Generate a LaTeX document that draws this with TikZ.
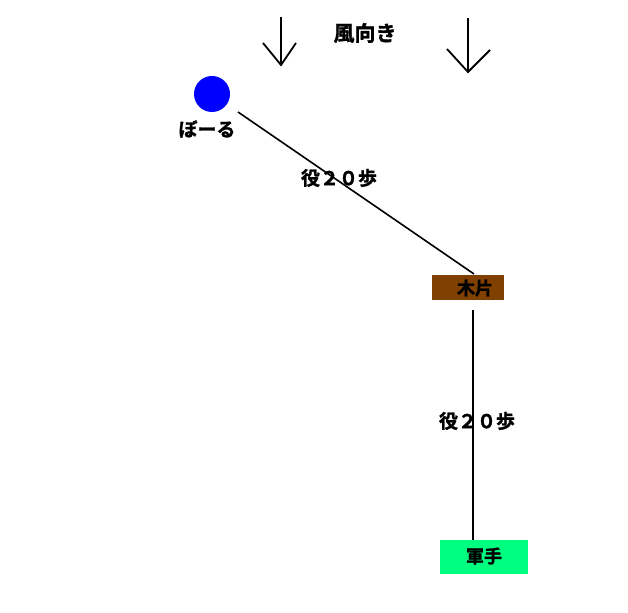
\documentclass[tikz,border=0pt]{standalone}
\usepackage{fontspec}
\newfontfamily\cjk{Noto Sans CJK JP}[BoldFont={Noto Sans CJK JP Bold},BoldFeatures={FakeBold=1.5}]
\begin{document}
\begin{tikzpicture}[x=1pt,y=-1pt,
  lbl/.style={font=\cjk\bfseries\fontsize{19}{21}\selectfont, inner sep=0pt},
  wind/.style={line width=1.8pt},
  conn/.style={line width=1.6pt}]
\definecolor{woodbrown}{RGB}{128,64,0}
\definecolor{glovegreen}{RGB}{0,255,128}
\useasboundingbox[fill=white] (0,0) rectangle (628,612);
% wind arrows
\coordinate (a1t) at (281,17);
\coordinate (a1h) at (281,65);
\coordinate (a1l) at (263,43);
\coordinate (a1r) at (296,43);
\draw[wind] (a1t) -- (a1h);
\draw[wind] (a1l) -- (a1h) -- (a1r);
\coordinate (a2t) at (468,18);
\coordinate (a2h) at (468,72);
\coordinate (a2l) at (447,49);
\coordinate (a2r) at (490,50);
\draw[wind] (a2t) -- (a2h);
\draw[wind] (a2l) -- (a2h) -- (a2r);
\node[lbl, font=\cjk\bfseries\fontsize{21}{23}\selectfont] (wind) at (365,33) {風向き};
% ball
\node[circle, fill=blue, minimum size=36pt, inner sep=0pt] (ball) at (212,94) {};
\node[lbl] (balllbl) at (207,129) {ぼーる};
% wood
\node[fill=woodbrown, minimum width=72pt, minimum height=25pt, inner sep=0pt] (wood) at (468,287) {};
\node[lbl, font=\cjk\bfseries\fontsize{18}{20}\selectfont] (woodlbl) at (475,288) {木片};
% glove
\node[fill=glovegreen, minimum width=88pt, minimum height=34pt, inner sep=0pt] (glove) at (484,557) {};
\node[lbl, font=\cjk\bfseries\fontsize{18}{20}\selectfont] (glovelbl) at (484,556) {軍手};
% connectors
\coordinate (c1s) at (238,112);
\coordinate (c1e) at (474,274);
\draw[conn] (c1s) -- (c1e);
\coordinate (c2s) at (473,310);
\draw[conn] (c2s) -- (glove.north -| c2s);
\node[lbl] (d1) at (339,178) {役２０歩};
\node[lbl] (d2) at (477,421) {役２０歩};
\end{tikzpicture}
\end{document}
